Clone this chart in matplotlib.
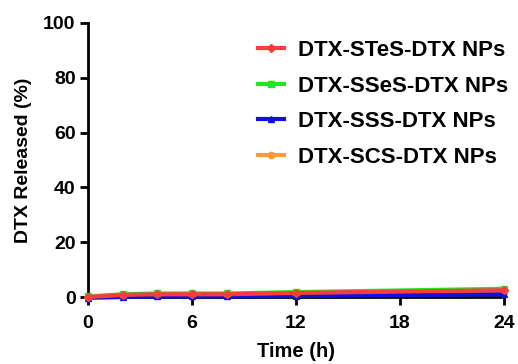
import matplotlib
matplotlib.use("Agg")
import matplotlib.pyplot as plt

time_h = [0, 2, 4, 6, 8, 12, 24]
stes = [0.0, 0.8, 1.0, 1.0, 1.0, 1.5, 2.5]
sses = [0.2, 1.0, 1.3, 1.3, 1.3, 1.8, 3.0]
sss = [-0.3, 0.0, 0.2, 0.2, 0.2, 0.4, 1.0]
scs = [0.0, 0.6, 0.8, 0.8, 0.8, 1.2, 2.0]
labels = ["DTX-STeS-DTX NPs", "DTX-SSeS-DTX NPs", "DTX-SSS-DTX NPs", "DTX-SCS-DTX NPs"]
colors = ["#ff3b3b", "#22e622", "#1010e0", "#ff9a33"]
markers = ["D", "s", "^", "o"]
xticks = [0, 6, 12, 18, 24]
yticks = [0, 20, 40, 60, 80, 100]

plt.rcParams['font.family'] = ['Liberation Sans', 'DejaVu Sans']
plt.rcParams['font.weight'] = 'bold'

fig = plt.figure(figsize=(5.18, 3.64), dpi=100)
ax = fig.add_axes([0.17, 0.184, 0.803, 0.753])

order = [3, 2, 1, 0]
series = [stes, sses, sss, scs]
for i in order:
    ax.plot(time_h, series[i], color=colors[i], marker=markers[i], markersize=4.5,
            linewidth=3, label=labels[i], zorder=3 + (3 - i))

handles, labs = ax.get_legend_handles_labels()
hmap = dict(zip(labs, handles))
leg = ax.legend([hmap[l] for l in labels], labels, loc='upper left',
                bbox_to_anchor=(0.37, 0.995), frameon=False, fontsize=16,
                handlelength=1.2, handletextpad=0.6, labelspacing=0.66,
                borderaxespad=0.3)
for t in leg.get_texts():
    t.set_fontweight('bold')

ax.set_xlim(0, 24)
ax.set_ylim(0, 100)
ax.set_xticks(xticks)
ax.set_yticks(yticks)
ax.tick_params(axis='both', labelsize=14, width=2, length=6, direction='out', pad=3)
ax.tick_params(axis='x', pad=7)
for lab in ax.get_xticklabels() + ax.get_yticklabels():
    lab.set_fontweight('bold')
ax.spines['top'].set_visible(False)
ax.spines['right'].set_visible(False)
ax.spines['left'].set_linewidth(2)
ax.spines['bottom'].set_linewidth(2)
for l in ax.lines:
    l.set_clip_on(False)

ax.set_xlabel("Time (h)", fontsize=14.5, fontweight='bold', labelpad=7)
ax.set_ylabel("DTX Released (%)", fontsize=14, fontweight='bold', labelpad=8)

fig.savefig("out.png", dpi=100)
